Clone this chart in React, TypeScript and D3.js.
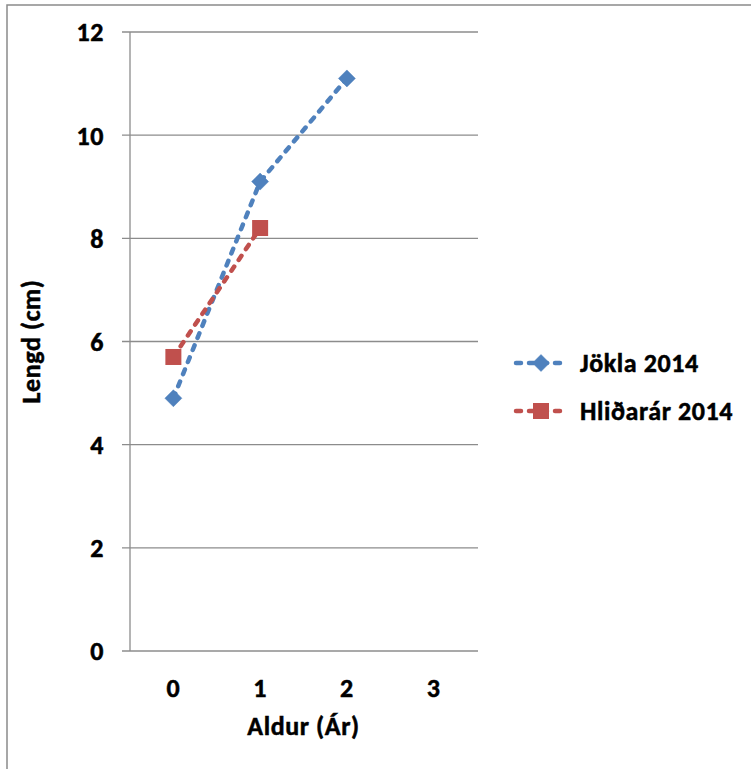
import React from "react";
import * as d3 from "d3";

// Age categories on the x axis
const ages = [0, 1, 2, 3];
// Mean length (cm) per age for each river
const joklaValues = [4.9, 9.1, 11.1];
const hlidararValues = [5.7, 8.2];
const yTicks = [0, 2, 4, 6, 8, 10, 12];
const seriesNames = ["Jökla 2014", "Hliðarár 2014"];

const W = 751;
const H = 769;
const FONT = "Carlito, Lato, 'Open Sans', sans-serif";
const FS = 26;

const plot = { left: 130, right: 477, top: 32, bottom: 651 };

// bold label style, slightly thickened with a thin outline
const textStyle = {
  fontSize: FS,
  fontWeight: "bold" as const,
  fill: "#000",
  stroke: "#000",
  strokeWidth: 0.5,
  letterSpacing: 0.6,
};

export default function App() {
  const x = d3
    .scaleBand<number>()
    .domain(ages)
    .range([plot.left, plot.right])
    .paddingInner(0)
    .paddingOuter(0);
  const cx = (a: number) => (x(a) as number) + x.bandwidth() / 2;
  const y = d3.scaleLinear().domain([0, 12]).range([plot.bottom, plot.top]);

  const line = d3
    .line<number>()
    .x((_, i) => cx(ages[i]))
    .y((d) => y(d));

  const blue = "#4F81BD";
  const red = "#C0504D";
  const grid = "#8C8C8C";

  const diamond = (px: number, py: number, r: number) =>
    `M${px},${py - r}L${px + r},${py}L${px},${py + r}L${px - r},${py}Z`;

  const series = [
    { name: seriesNames[0], values: joklaValues, color: blue, shape: "diamond" },
    { name: seriesNames[1], values: hlidararValues, color: red, shape: "square" },
  ];

  const marker = (shape: string, px: number, py: number, color: string, key: string) =>
    shape === "diamond" ? (
      <path key={key} d={diamond(px, py, 8.5)} fill={color} stroke={color} strokeWidth={0.5} />
    ) : (
      <rect key={key} x={px - 8} y={py - 8} width={16} height={16} fill={color} />
    );

  return (
    <svg
      width={W}
      height={H}
      style={{ position: "absolute", left: 0, top: 0, background: "#fff" }}
      fontFamily={FONT}
    >
      {/* chart frame */}
      <rect x={7} y={5} width={W + 10} height={H + 10} fill="none" stroke="#8a8a8a" strokeWidth={1.5} />

      {/* horizontal gridlines with outside ticks */}
      {yTicks.map((t) => (
        <g key={t}>
          <line x1={plot.left - 8} x2={plot.right + 1} y1={y(t)} y2={y(t)} stroke={grid} strokeWidth={1.3} />
          <text x={plot.left - 26} y={y(t)} dy="0.36em" textAnchor="end" style={textStyle}>
            {t}
          </text>
        </g>
      ))}
      {/* y axis line */}
      <line x1={plot.left} x2={plot.left} y1={plot.top} y2={plot.bottom} stroke={grid} strokeWidth={1.3} />

      {/* category labels */}
      {ages.map((a) => (
        <text key={a} x={cx(a)} y={688} dy="0.36em" textAnchor="middle" style={textStyle}>
          {a}
        </text>
      ))}

      {/* axis titles */}
      <text x={(plot.left + plot.right) / 2} y={726} dy="0.36em" textAnchor="middle" style={textStyle}>
        Aldur (Ár)
      </text>
      <text
        transform={`translate(31,${(plot.top + plot.bottom) / 2}) rotate(-90)`}
        dy="0.36em"
        textAnchor="middle"
        style={textStyle}
      >
        Lengd (cm)
      </text>

      {/* series lines */}
      {series.map((s) => (
        <path
          key={s.name}
          d={line(s.values) as string}
          fill="none"
          stroke={s.color}
          strokeWidth={4.5}
          strokeDasharray="5 8"
          strokeLinecap="round"
        />
      ))}
      {/* series markers */}
      {series.map((s) =>
        s.values.map((v, i) => marker(s.shape, cx(ages[i]), y(v), s.color, `${s.name}-${i}`))
      )}

      {/* legend */}
      {series.map((s, i) => {
        const ly = 363 + i * 48;
        return (
          <g key={s.name}>
            <line
              x1={516}
              x2={566}
              y1={ly}
              y2={ly}
              stroke={s.color}
              strokeWidth={4.5}
              strokeDasharray="5 8"
              strokeLinecap="round"
            />
            {marker(s.shape, 541, ly, s.color, `lg-${i}`)}
            <text x={580} y={ly} dy="0.36em" style={textStyle}>
              {s.name}
            </text>
          </g>
        );
      })}
    </svg>
  );
}
